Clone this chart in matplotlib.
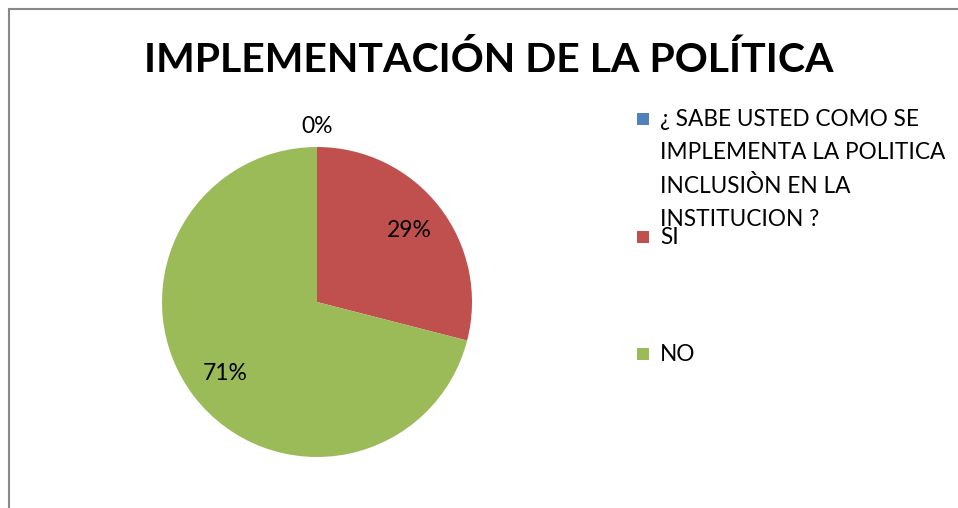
import numpy as np
import matplotlib
matplotlib.use('Agg')
from matplotlib import pyplot as plt
from matplotlib.patches import Rectangle

plt.rcParams['font.family'] = ['Lato', 'DejaVu Sans']

title = 'IMPLEMENTACIÓN DE LA POLÍTICA'
labels = ['¿ SABE USTED COMO SE\nIMPLEMENTA LA POLITICA\nINCLUSIÒN EN LA\nINSTITUCION ?', 'SI', 'NO']
values = [0, 29, 71]
colors = ['#4F81BD', '#C0504D', '#9BBB59']

W, H = 958, 508
fig = plt.figure(figsize=(W / 100, H / 100), dpi=100)

# chart frame (only left/top visible in the crop)
fig.add_artist(Rectangle((8.5 / W, -0.1), 2, 1 - 9 / H + 0.1, transform=fig.transFigure,
                         fill=False, edgecolor='#888888', linewidth=1.5))

fig.text(489 / W, 1 - 60 / H, title, ha='center', va='center',
         fontsize=29.5, fontweight='bold')

# pie centred at (317, 302), radius 155 px
r = 155
ax = fig.add_axes([(317 - r) / W, (H - 302 - r) / H, 2 * r / W, 2 * r / H])
wedges, texts, autotexts = ax.pie(values, colors=colors, startangle=90, counterclock=False,
                                  autopct='%1.0f%%', pctdistance=0.75,
                                  textprops={'fontsize': 16.5},
                                  wedgeprops={'linewidth': 0})
ax.set_xlim(-1, 1)
ax.set_ylim(-1, 1)
ax.set_aspect('equal')
for w, t in zip(wedges, autotexts):
    if w.theta2 - w.theta1 < 1:
        ang = np.deg2rad((w.theta1 + w.theta2) / 2)
        t.set_position((1.13 * np.cos(ang), 1.13 * np.sin(ang)))

# legend drawn by hand to match the overlapping layout
ys = [119, 237, 354]
for lab, col, y in zip(labels, colors, ys):
    fig.add_artist(Rectangle((637 / W, 1 - (y + 6) / H), 12 / W, 12 / H,
                             transform=fig.transFigure, facecolor=col, edgecolor='none'))
    fig.text(660 / W, 1 - (y - 10) / H, lab, ha='left', va='top', fontsize=16.3,
             linespacing=1.69)

fig.savefig('out.png', dpi=100)
